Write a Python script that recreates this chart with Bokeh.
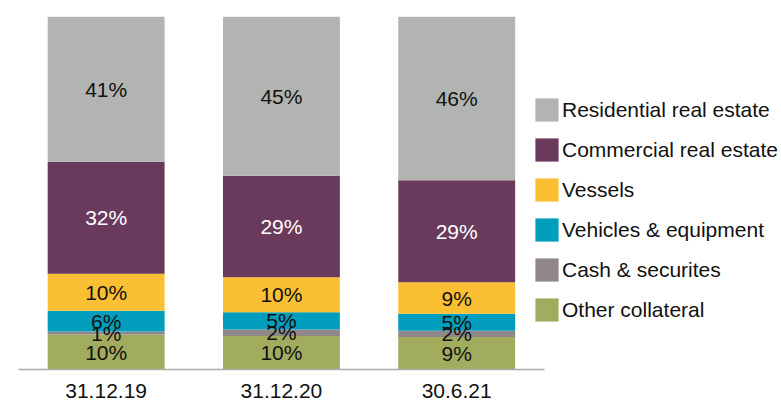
from bokeh.plotting import figure
from bokeh.models import ColumnDataSource, Legend, LegendItem, Range1d, FixedTicker
from bokeh.core.properties import value
from bokeh.embed import file_html
from bokeh.resources import INLINE
import numpy as np

categories = ["31.12.19", "31.12.20", "30.6.21"]
series = ["Other collateral", "Cash & securites", "Vehicles & equipment",
          "Vessels", "Commercial real estate", "Residential real estate"]
other = [9.9, 9.5, 9.2]
cash = [0.85, 1.8, 1.8]
vehicles = [5.9, 4.9, 4.8]
vessels = [10.5, 9.9, 8.9]
commercial = [31.7, 28.8, 28.9]
residential = [41.15, 45.1, 46.4]
labels_other = ["10%", "10%", "9%"]
labels_cash = ["1%", "2%", "2%"]
labels_vehicles = ["6%", "5%", "5%"]
labels_vessels = ["10%", "10%", "9%"]
labels_commercial = ["32%", "29%", "29%"]
labels_residential = ["41%", "45%", "46%"]

colors = ["#A2AC5E", "#8F8788", "#009DBD", "#FBBF33", "#6A3A5C", "#B2B4B1"]
text_colors = ["#111111", "#111111", "#111111", "#111111", "#FFFFFF", "#111111"]
keys = ["other", "cash", "vehicles", "vessels", "commercial", "residential"]
vals = [other, cash, vehicles, vessels, commercial, residential]
labs = [labels_other, labels_cash, labels_vehicles, labels_vessels,
        labels_commercial, labels_residential]

xpos = list(range(len(categories)))
data = {"x": xpos}
for k, v in zip(keys, vals):
    data[k] = v
src = ColumnDataSource(data)

p = figure(width=781, height=403, x_range=Range1d(-0.5, 3.853),
           y_range=Range1d(0, 100), output_backend="svg", toolbar_location=None,
           min_border_left=18, min_border_right=0, min_border_top=16,
           min_border_bottom=34)
p.outline_line_color = None
p.xgrid.visible = False
p.ygrid.visible = False
p.yaxis.visible = False
p.background_fill_color = "white"

renderers = p.vbar_stack(keys, x="x", width=0.667, source=src,
                         color=colors, line_color=None)

arr = np.array(vals)
cum = np.cumsum(arr, axis=0)
for i in range(len(keys)):
    centers = cum[i] - arr[i] / 2.0
    ts = ColumnDataSource(dict(x=xpos, y=list(centers), t=labs[i]))
    p.text(x="x", y="y", text="t", source=ts, text_align="center",
           text_baseline="middle", text_font=value("Liberation Sans"),
           text_font_size="21px", text_color=text_colors[i])

ax = p.xaxis[0]
ax.ticker = FixedTicker(ticks=xpos)
ax.major_label_overrides = {i: c for i, c in zip(xpos, categories)}
ax.bounds = (-0.5, 2.5)
ax.axis_line_color = "#ABABAB"
ax.axis_line_width = 1.5
ax.major_tick_line_color = None
ax.minor_tick_line_color = None
ax.major_tick_out = 0
ax.major_tick_in = 0
ax.minor_tick_out = 0
ax.minor_tick_in = 0
ax.major_label_standoff = 14
ax.major_label_text_line_height = 0.8
ax.major_label_text_font = "Liberation Sans"
ax.major_label_text_font_size = "21px"
ax.major_label_text_color = "#111111"

items = [LegendItem(label=series[i], renderers=[renderers[i]]) for i in range(5, -1, -1)]
legend = Legend(items=items, location=(514, 45), orientation="vertical",
                glyph_width=29, glyph_height=29, label_height=29,
                spacing=11, padding=0, margin=0, label_standoff=1,
                border_line_color=None, background_fill_alpha=0,
                label_text_font="Liberation Sans", label_text_font_size="21px",
                label_text_color="#111111")
p.add_layout(legend)

open("out.html", "w").write(file_html(p, INLINE))
